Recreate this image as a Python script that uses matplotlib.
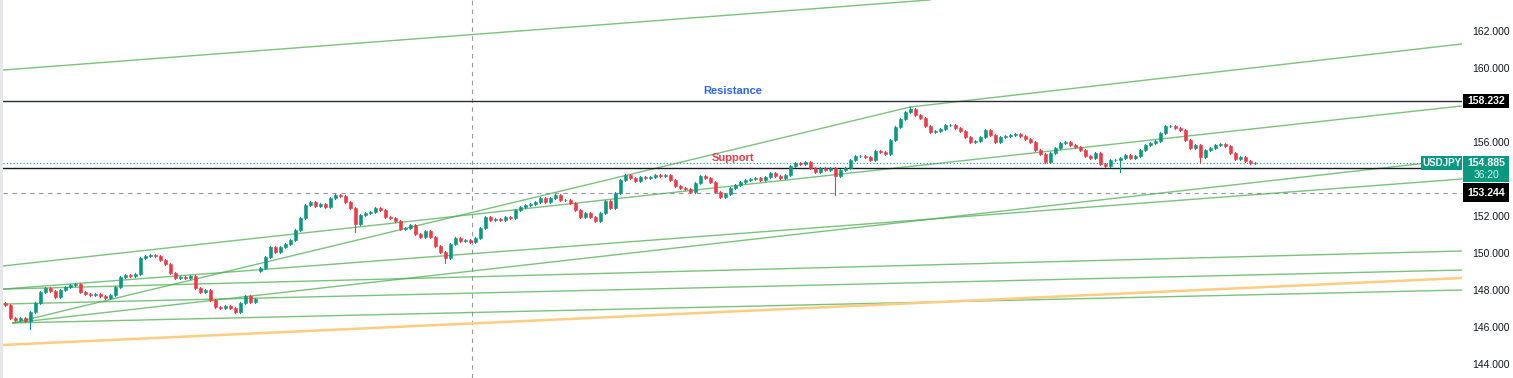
import matplotlib.pyplot as plt
from matplotlib.patches import Rectangle

plt.rcParams['font.family'] = ['Liberation Sans', 'DejaVu Sans']

# USDJPY closes, one candle per step (left to right)
closes = [
    147.19, 146.49, 146.38, 146.49, 146.32, 146.81, 147.30, 147.89, 148.11, 147.95,
    147.62, 148.00, 148.16, 148.27, 148.32, 147.89, 147.78, 147.73, 147.78, 147.68,
    147.57, 147.73, 148.16, 148.70, 148.81, 148.76, 148.87, 149.73, 149.84, 149.89,
    149.84, 149.62, 149.41, 148.92, 148.65, 148.70, 148.65, 148.76, 148.11, 147.89,
    148.00, 147.46, 147.08, 147.03, 147.14, 147.03, 146.81, 147.30, 147.68, 147.35,
    147.51,
    149.19, 149.78, 150.32, 150.05, 150.32, 150.49, 150.70, 151.24, 151.89, 152.59,
    152.76, 152.54, 152.65, 152.49, 152.97, 153.14, 153.08, 152.76, 152.43, 151.57,
    152.05, 152.16, 152.22, 152.43, 152.32, 151.95, 151.89, 151.73, 151.30, 151.35,
    151.51, 151.03, 150.87, 151.19, 150.87, 150.38, 150.05, 149.73, 150.49, 150.81,
    150.65, 150.70, 150.60, 150.81, 151.35, 151.95, 151.78, 151.84, 151.78, 151.95,
    151.89, 152.32, 152.49, 152.59, 152.65, 152.76, 152.97, 152.76, 152.97, 153.14,
    152.87, 152.87, 152.70, 152.32, 151.95, 152.16, 151.95, 151.73, 152.16, 152.81,
    152.43, 153.24, 153.95, 154.22, 154.05, 153.89, 154.11, 154.05, 154.11, 154.22,
    154.16, 154.22, 153.95, 153.62, 153.51, 153.46, 153.30, 153.78, 154.16, 154.05,
    153.84, 153.30, 153.03, 153.19, 153.51, 153.68, 153.84, 153.95, 154.00, 154.05,
    153.95, 154.11, 154.32, 154.16, 154.05, 154.22, 154.70, 154.86, 154.81, 154.92,
    154.59, 154.38, 154.59, 154.49, 154.59, 154.16, 154.49, 154.59, 155.03, 155.24,
    155.24, 155.19, 155.03, 155.51, 155.46, 155.35, 156.11, 156.81, 157.24, 157.62,
    157.78, 157.46, 157.30, 156.87, 156.54, 156.60, 156.70, 156.92, 156.92, 156.76,
    156.60, 156.27, 156.00, 156.05, 156.27, 156.65, 156.38, 156.00, 156.27, 156.32,
    156.38, 156.43, 156.32, 156.16, 156.00, 155.57, 155.35, 154.92, 155.41, 155.68,
    155.95, 156.00, 155.84, 155.73, 155.57, 155.24, 155.14, 155.41, 154.81, 154.70,
    155.03, 155.03, 155.14, 155.30, 155.14, 155.24, 155.57, 155.84, 155.95, 156.05,
    156.49, 156.87, 156.87, 156.76, 156.65, 156.11, 155.68, 155.84, 155.19, 155.57,
    155.68, 155.84, 155.89, 155.78, 155.41, 155.08, 155.19, 154.97, 154.86, 154.885,
]
first_open = 147.30
gap_opens = {51: 149.05}
long_lows = {5: 145.89, 70: 151.13, 88: 149.46, 166: 153.14, 220: 154.64, 223: 154.38, 239: 154.92}
long_highs = {181: 157.89, 232: 156.92}

# trend lines: (start index, start price, end index, end price)
green_lines = [
    (-0.4, 159.89, 185.0, 163.68),
    (-0.4, 149.30, 291.4, 157.95),
    (1.6, 146.22, 181.0, 157.89),
    (181.0, 157.89, 291.4, 161.30),
    (1.6, 146.22, 291.4, 155.08),
    (-0.4, 148.05, 291.4, 154.00),
    (-0.4, 148.05, 291.4, 150.11),
    (-0.4, 147.24, 291.4, 149.08),
    (1.6, 146.22, 291.4, 148.00),
]
orange_line = (-0.4, 145.03, 291.4, 148.65)

resistance = 158.232
support = 154.59
last_price = 154.885
dashed_level = 153.244
cursor_x = 93.4
yticks = [144, 146, 148, 150, 152, 154, 156, 158, 160, 162]
hidden_ticks = [154, 158]  # covered by the price tags

UP = '#089981'
DOWN = '#f23645'
W, H = 1513, 378

fig = plt.figure(figsize=(W / 100, H / 100), dpi=100)
ax = fig.add_axes([3 / W, 0, 1459 / W, 1])
ax.set_xlim(-0.4, 291.4)
ax.set_ylim(143.244, 163.676)
for s in ax.spines.values():
    s.set_visible(False)
ax.set_xticks([])
ax.yaxis.tick_right()
ax.set_yticks(yticks)
ax.set_yticklabels(['' if t in hidden_ticks else f'{t:.3f}' for t in yticks])
ax.tick_params(axis='y', length=0, pad=7, labelsize=7.5, labelcolor='#131722')

fig.add_artist(Rectangle((0, 0), 3 / W, 1, transform=fig.transFigure,
                         color='#e6e8ec', lw=0))

# candles
prev = first_open
for i, c in enumerate(closes):
    o = gap_opens.get(i, prev)
    col = UP if c >= o else DOWN
    hi = long_highs.get(i, max(o, c) + 0.06)
    lo = long_lows.get(i, min(o, c) - 0.06)
    ax.plot([i, i], [lo, hi], color=col, lw=0.8, zorder=4)
    ax.add_patch(Rectangle((i - 0.3, min(o, c)), 0.6, max(abs(c - o), 0.02),
                           facecolor=col, edgecolor=col, lw=0.4, zorder=5))
    prev = c

for x0, y0, x1, y1 in green_lines:
    ax.plot([x0, x1], [y0, y1], color='#4caf50', lw=1.0, alpha=0.75, zorder=3)
ax.plot(orange_line[0::2], orange_line[1::2], color='#ffcc80', lw=1.8, zorder=3)

ax.axhline(resistance, color='#2a2e39', lw=1.0, zorder=3)
ax.axhline(support, color='#131722', lw=1.0, zorder=3)
ax.axhline(last_price, color='#089981', lw=0.8, ls=(0, (1, 2)), zorder=3)
ax.axhline(dashed_level, color='#9598a1', lw=0.8, ls=(0, (4, 4)), zorder=2)
ax.axvline(cursor_x, color='#9598a1', lw=0.8, ls=(0, (4, 4)), zorder=2)

ax.text(145.6, 158.76, 'Resistance', color='#2962ff', fontsize=8,
        fontweight='bold', ha='center', va='center', zorder=6)
ax.text(145.6, 155.13, 'Support', color='#f23645', fontsize=8,
        fontweight='bold', ha='center', va='center', zorder=6)


def box(x0, y0, x1, y1, color):
    fig.add_artist(Rectangle((x0 / W, 1 - y1 / H), (x1 - x0) / W, (y1 - y0) / H,
                             transform=fig.transFigure, color=color, lw=0, zorder=10))


def label(x, y, s, color='white', weight='bold', size=7.6, ha='center'):
    fig.text(x / W, 1 - y / H, s, color=color, fontsize=size, fontweight=weight,
             ha=ha, va='center', zorder=11)


box(1463, 94, 1509, 108, '#000000')
label(1486, 101, f'{resistance:.3f}')
box(1421, 156, 1462, 170, UP)
label(1441.5, 163, 'USDJPY', size=7)
box(1463, 156, 1509, 182, UP)
label(1486, 163, f'{last_price:.3f}')
label(1486, 175.5, '36:20', color='#d8f1ec', weight='normal', size=7.4)
box(1463, 183, 1509, 202, '#000000')
label(1486, 193, f'{dashed_level:.3f}')

plt.savefig('out.png', dpi=100)
